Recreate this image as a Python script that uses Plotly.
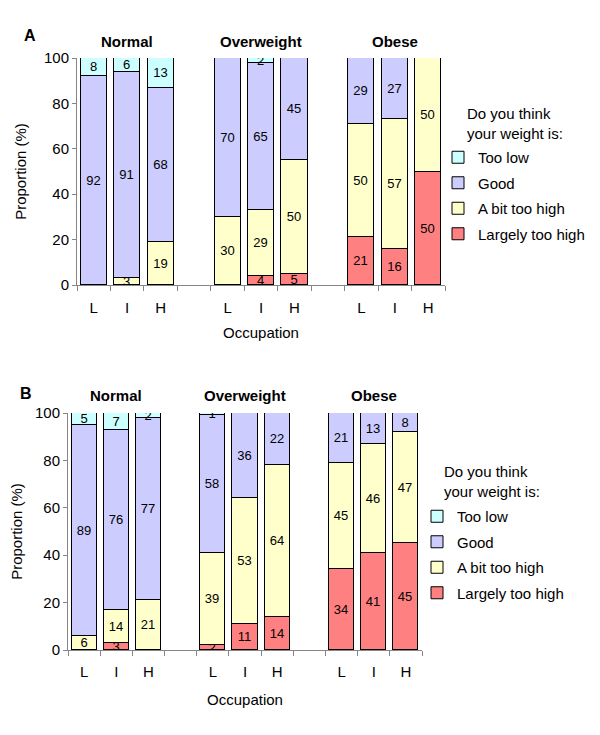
# -*- coding: utf-8 -*-

import plotly.graph_objs as go

occupation = ['L', 'I', 'H']
groups = ['Normal', 'Overweight', 'Obese']
series = ['Largely too high', 'A bit too high', 'Good', 'Too low']
colors = ['#FF8080', '#FFFFCC', '#CCCCFF', '#CCFFFF']
legend_title = 'Do you think<br>your weight is:'

# panel A, order: Normal L I H, Overweight L I H, Obese L I H
a_too_low = [8, 6, 13, 0, 2, 0, 0, 0, 0]
a_good = [92, 91, 68, 70, 65, 45, 29, 27, 0]
a_bit_high = [0, 3, 19, 30, 29, 50, 50, 57, 50]
a_largely = [0, 0, 0, 0, 4, 5, 21, 16, 50]

# panel B
b_too_low = [5, 7, 2, 1, 0, 0, 0, 0, 0]
b_good = [89, 76, 77, 58, 36, 22, 21, 13, 8]
b_bit_high = [6, 14, 21, 39, 53, 64, 45, 46, 47]
b_largely = [0, 3, 0, 2, 11, 14, 34, 41, 45]

FONT = 'Liberation Sans, Arial, sans-serif'
AXCOL = '#868686'

# page body keeps its 8px margin, so the figure is 592x727 starting at (8, 8)
W, H, OFF = 592, 727, 8


def fx(p):
    return (p - OFF) / W


def fy(p):
    return 1 - (p - OFF) / H


xpos = [g * 4 + k for g in range(len(groups)) for k in range(len(occupation))]
xlabels = occupation * len(groups)


def panel_traces(data, xa, ya, legend, tag):
    traces = []
    for i, (name, vals, col) in enumerate(zip(series, data, colors)):
        traces.append(go.Bar(
            x=xpos, y=vals, name=name,
            xaxis=xa, yaxis=ya, legend=legend,
            legendgroup=tag + str(i),
            legendrank=len(series) - i,  # top of the stack first in legend
            width=0.78,
            marker=dict(color=col, line=dict(color='black', width=1)),
            text=[str(v) if v else '' for v in vals],
            textposition='inside', insidetextanchor='middle', textangle=0,
            textfont=dict(color='black', size=13, family=FONT),
            hoverinfo='skip'))
    return traces


traces = panel_traces([a_largely, a_bit_high, a_good, a_too_low], 'x', 'y', 'legend', 'A')
traces += panel_traces([b_largely, b_bit_high, b_good, b_too_low], 'x2', 'y2', 'legend2', 'B')


def xaxis(domain, anchor, lab_off, title_off):
    return dict(domain=domain, anchor=anchor, range=[-0.5, 10.5],
                tickvals=xpos, ticktext=xlabels, ticks='', showgrid=False,
                showline=True, linecolor=AXCOL, linewidth=1,
                ticklabelstandoff=lab_off,
                tickfont=dict(size=15, color='black', family=FONT),
                minor=dict(tickmode='linear', tick0=-0.5, dtick=1, ticks='outside',
                           ticklen=5, tickcolor=AXCOL, showgrid=False),
                title=dict(text='Occupation', standoff=title_off,
                           font=dict(size=15, color='black', family=FONT)),
                zeroline=False, fixedrange=True)


def yaxis(domain, anchor, title_off):
    return dict(domain=domain, anchor=anchor, range=[0, 100], dtick=20,
                ticks='outside', ticklen=4, tickcolor=AXCOL, showgrid=False,
                showline=True, linecolor=AXCOL, linewidth=1, zeroline=False,
                tickfont=dict(size=15, color='black', family=FONT),
                title=dict(text='Proportion (%)', standoff=title_off,
                           font=dict(size=15, color='black', family=FONT)),
                fixedrange=True)


def legend(x, y):
    return dict(x=x, y=y, xanchor='left', yanchor='top', traceorder='grouped',
                tracegroupgap=3, bgcolor='rgba(0,0,0,0)',
                font=dict(size=15, color='black', family=FONT))


annotations = []
for xa, gy, letter, lx, ly, tx, ty in [('x', 41, 'A', 22, 36, 465, 103),
                                       ('x2', 395, 'B', 18, 393, 442, 461)]:
    for g, name in enumerate(groups):
        annotations.append(dict(x=g * 4 + 1, y=fy(gy), xref=xa, yref='paper',
                                xanchor='center', yanchor='middle',
                                text='<b>' + name + '</b>', showarrow=False,
                                font=dict(size=15, color='black', family=FONT)))
    annotations.append(dict(x=fx(lx), y=fy(ly), xref='paper', yref='paper',
                            text='<b>' + letter + '</b>', showarrow=False,
                            xanchor='left', yanchor='middle',
                            font=dict(size=16, color='black', family=FONT)))
    annotations.append(dict(x=fx(tx), y=fy(ty), xref='paper', yref='paper', text=legend_title,
                            showarrow=False, xanchor='left', yanchor='top', align='left',
                            font=dict(size=15, color='black', family=FONT)))

layout = go.Layout(
    width=W, height=H,
    margin=dict(l=0, r=0, t=0, b=0, autoexpand=False),
    paper_bgcolor='white', plot_bgcolor='white',
    barmode='stack', bargap=0,
    xaxis=xaxis([fx(77), fx(445)], 'y', 9, 12),
    yaxis=yaxis([fy(285), fy(58)], 'x', 13),
    xaxis2=xaxis([fx(68), fx(422)], 'y2', 8, 15),
    yaxis2=yaxis([fy(650), fy(413)], 'x2', 15),
    legend=legend(fx(438), fy(141)),
    legend2=legend(fx(417), fy(500)),
    uniformtext=dict(minsize=13, mode='show'),
    annotations=annotations,
    font=dict(family=FONT, color='black'),
)

fig = go.Figure(data=traces, layout=layout)
fig.write_html('out.html')
